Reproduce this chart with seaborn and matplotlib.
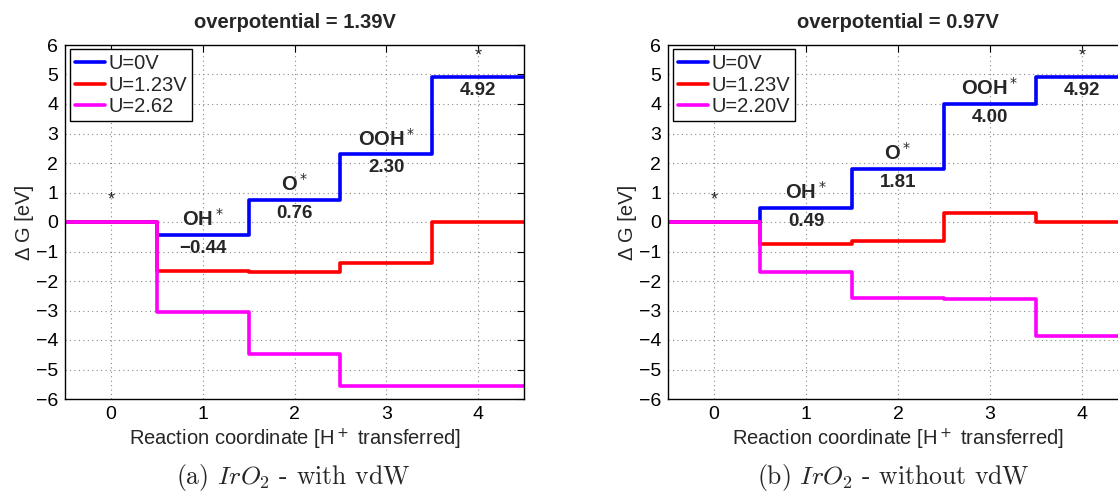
import numpy as np
import pandas as pd
import matplotlib
matplotlib.use('Agg')
import matplotlib.pyplot as plt
import seaborn as sns
from matplotlib.lines import Line2D

# step labels and free energies (eV)
states = ['*', 'OH*', 'O*', 'OOH*', '*']
inter_labels = ['OH$^*$', 'O$^*$', 'OOH$^*$']

left_u0 = [0.00, -0.44, 0.76, 2.30, 4.92]
left_u123 = [0.00, -1.67, -1.70, -1.39, 0.00]
left_u262 = [0.00, -3.06, -4.48, -5.56, -5.56]
left_values = ['\u22120.44', '0.76', '2.30', '4.92']
left_legend = ['U=0V', 'U=1.23V', 'U=2.62']
left_title = 'overpotential = 1.39V'

right_u0 = [0.00, 0.49, 1.81, 4.00, 4.92]
right_u123 = [0.00, -0.74, -0.65, 0.31, 0.00]
right_u220 = [0.00, -1.71, -2.59, -2.60, -3.88]
right_values = ['0.49', '1.81', '4.00', '4.92']
right_legend = ['U=0V', 'U=1.23V', 'U=2.20V']
right_title = 'overpotential = 0.97V'

colors = ['#0000ff', '#ff0000', '#ff00ff']

sns.set_style('white')
plt.rcParams['font.family'] = ['Liberation Sans', 'DejaVu Sans']
plt.rcParams['xtick.direction'] = 'in'
plt.rcParams['ytick.direction'] = 'in'


def long_table(series, names):
    rows = []
    edges = np.arange(len(series[0]) + 1) - 0.5
    for s, name in zip(series, names):
        ys = list(s) + [s[-1]]
        for xe, ye in zip(edges, ys):
            rows.append({'x': xe, 'dG': ye, 'U': name})
    return pd.DataFrame(rows)


def draw(ax, series, names, values, title):
    df = long_table(series, names)
    sns.lineplot(data=df, x='x', y='dG', hue='U', palette=colors,
                 drawstyle='steps-post', estimator=None, lw=2.6,
                 legend=False, ax=ax)
    ax.set_xlim(-0.5, 4.5)
    ax.set_ylim(-6, 6)
    ax.set_xticks(range(5))
    ax.set_yticks(range(-6, 7))
    ax.grid(True, ls=(0, (1, 3)), color='#888888', lw=0.8)
    ax.tick_params(labelsize=14, length=5, width=0.8, top=True, right=True,
                   colors='black', pad=5)
    for sp in ax.spines.values():
        sp.set_color('black')
        sp.set_linewidth(1.0)
    ax.set_xlabel('Reaction coordinate [H$^+$ transferred]', fontsize=14.5,
                  labelpad=3)
    ax.set_ylabel('\u0394 G [eV]', fontsize=14.5, labelpad=1)
    ax.set_title(title, fontsize=14.5, fontweight='bold', pad=12)

    top = series[0]
    for i, lab in enumerate(inter_labels):
        ax.text(i + 1, top[i + 1] + 0.3, lab, ha='center', va='baseline',
                fontsize=14.5, fontweight='bold')
    for i, v in enumerate(values):
        ax.text(i + 1, top[i + 1] - 0.61, v, ha='center', va='baseline',
                fontsize=13.5, fontweight='bold')
    ax.text(0, 0.75, '*', ha='center', va='center', fontsize=13)
    ax.text(4, 5.63, '*', ha='center', va='center', fontsize=13)

    handles = [Line2D([], [], color=c, lw=2.6) for c in colors]
    ax.legend(handles, names, loc='upper left', bbox_to_anchor=(0.011, 0.988),
              borderaxespad=0, fontsize=14.5, frameon=True, fancybox=False,
              edgecolor='black', framealpha=1, handlelength=1.5,
              handletextpad=0.15, labelspacing=0.12, borderpad=0.25)
    ax.get_legend().get_frame().set_linewidth(1.0)


fig = plt.figure(figsize=(11.18, 4.95), dpi=100)
ax1 = fig.add_axes([65 / 1118, 96 / 495, 459 / 1118, 354 / 495])
ax2 = fig.add_axes([668 / 1118, 96 / 495, 460 / 1118, 354 / 495])

draw(ax1, [left_u0, left_u123, left_u262], left_legend, left_values, left_title)
draw(ax2, [right_u0, right_u123, right_u220], right_legend, right_values, right_title)

fig.text(293 / 1118, 11 / 495, '(a) $IrO_2$ - with vdW', ha='center', va='baseline',
         family='cmr10', math_fontfamily='cm', fontsize=18.5)
fig.text(893 / 1118, 11 / 495, '(b) $IrO_2$ - without vdW', ha='center', va='baseline',
         family='cmr10', math_fontfamily='cm', fontsize=18.5)

fig.savefig('out.png', dpi=100)
